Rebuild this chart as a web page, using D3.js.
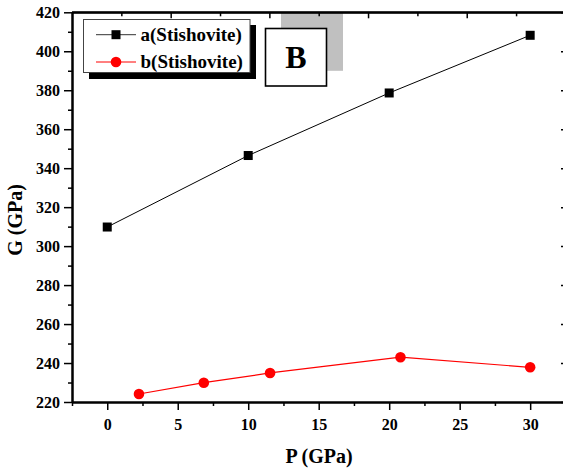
<!DOCTYPE html>
<html>
<head>
<meta charset="utf-8">
<script src="https://cdn.jsdelivr.net/npm/d3@7"></script>
<style>
  html, body { margin: 0; padding: 0; background: #fff; }
  svg { display: block; }
  text { font-family: "Liberation Serif", "Times New Roman", "DejaVu Serif", serif; font-weight: bold; fill: #000; }
</style>
</head>
<body>
<svg id="chart" width="563" height="470"></svg>
<script>
// Shear modulus G of stishovite vs pressure P
const seriesNames = ["a(Stishovite)", "b(Stishovite)"];
const aP = [0, 10, 20, 30];
const aG = [309.8, 346.5, 378.6, 408.2];
const bP = [2.25, 6.85, 11.55, 20.8, 30];
const bG = [224.1, 229.9, 234.9, 243.0, 237.8];
const xTicks = [0, 5, 10, 15, 20, 25, 30];
const xMinor = [-2.5, 2.5, 7.5, 12.5, 17.5, 22.5, 27.5];
const yTicks = [220, 240, 260, 280, 300, 320, 340, 360, 380, 400, 420];
const yMinor = [230, 250, 270, 290, 310, 330, 350, 370, 390, 410];
const topMajor = [4.5, 11.5, 18.5, 25.5];
const topMinor = [1, 8, 15, 22, 29];
const panelLabel = "B";

const serif = "'Liberation Serif', 'Times New Roman', serif";
const svg = d3.select("#chart");
const L = 72, R = 564, T = 12.3, B = 402;

const x = d3.scaleLinear().domain([-2.5, 32.4]).range([L, R]);
const y = d3.scaleLinear().domain([220, 420]).range([B, T]);

// inset panel label with grey offset box behind it
const g = svg.append("g");
g.append("rect").attr("x", 281).attr("y", T).attr("width", 62).attr("height", 58.5)
  .attr("fill", "#c0c0c0");
g.append("rect").attr("x", 265.5).attr("y", 28.5).attr("width", 61).attr("height", 57.5)
  .attr("fill", "#fff").attr("stroke", "#000").attr("stroke-width", 1.6);
g.append("text").attr("x", 296).attr("y", 68).attr("text-anchor", "middle")
  .style("font-size", "32px").style("font-family", serif).text(panelLabel);

// axes
function styleAxis(sel) {
  sel.select(".domain").attr("stroke", "#000").attr("stroke-width", 2);
  sel.selectAll(".tick line").attr("stroke", "#000").attr("stroke-width", 1.5);
}

const xAxis = svg.append("g").attr("transform", `translate(0,${B})`)
  .call(d3.axisBottom(x).tickValues(xTicks).tickSize(8).tickSizeOuter(0).tickPadding(9).tickFormat(d3.format("d")));
styleAxis(xAxis);
xAxis.selectAll("text").style("font-size", "16px").style("font-family", serif).style("font-weight", "bold");
const xAxisMinor = svg.append("g").attr("transform", `translate(0,${B})`)
  .call(d3.axisBottom(x).tickValues(xMinor).tickSize(4).tickSizeOuter(0).tickFormat(""));
styleAxis(xAxisMinor);

const yAxis = svg.append("g").attr("transform", `translate(${L},0)`)
  .call(d3.axisLeft(y).tickValues(yTicks).tickSize(8).tickSizeOuter(0).tickPadding(4).tickFormat(d3.format("d")));
styleAxis(yAxis);
yAxis.selectAll("text").style("font-size", "16px").style("font-family", serif).style("font-weight", "bold");
const yAxisMinor = svg.append("g").attr("transform", `translate(${L},0)`)
  .call(d3.axisLeft(y).tickValues(yMinor).tickSize(4).tickSizeOuter(0).tickFormat(""));
styleAxis(yAxisMinor);

// top frame with its own inward ticks
const topAxis = svg.append("g").attr("transform", `translate(0,${T})`)
  .call(d3.axisBottom(x).tickValues(topMajor).tickSize(6).tickSizeOuter(0).tickFormat(""));
styleAxis(topAxis);
topAxis.select(".domain").attr("d", `M${L},0H${R}`);
const topAxisMinor = svg.append("g").attr("transform", `translate(0,${T})`)
  .call(d3.axisBottom(x).tickValues(topMinor).tickSize(4).tickSizeOuter(0).tickFormat(""));
styleAxis(topAxisMinor);

// right frame with inward ticks
const rightAxis = svg.append("g").attr("transform", `translate(${R},0)`)
  .call(d3.axisLeft(y).tickValues(yTicks).tickSize(3).tickSizeOuter(0).tickFormat(""));
styleAxis(rightAxis);

// axis titles
svg.append("text").attr("x", 319).attr("y", 463).attr("text-anchor", "middle")
  .style("font-size", "20px").style("font-family", serif).text("P (GPa)");
svg.append("text").attr("transform", "translate(22,220) rotate(-90)").attr("text-anchor", "middle")
  .style("font-size", "20px").style("font-family", serif).text("G (GPa)");

// series lines
const line = d3.line().x(d => x(d[0])).y(d => y(d[1]));
const aData = aP.map((p, i) => [p, aG[i]]);
const bData = bP.map((p, i) => [p, bG[i]]);

svg.append("path").datum(aData).attr("d", line).attr("fill", "none")
  .attr("stroke", "#000").attr("stroke-width", 1);
svg.append("path").datum(bData).attr("d", line).attr("fill", "none")
  .attr("stroke", "#ff0000").attr("stroke-width", 1.2);

svg.append("g").selectAll("rect").data(aData).join("rect")
  .attr("x", d => x(d[0]) - 4.5).attr("y", d => y(d[1]) - 4.5)
  .attr("width", 9).attr("height", 9).attr("fill", "#000");
svg.append("g").selectAll("circle").data(bData).join("circle")
  .attr("cx", d => x(d[0])).attr("cy", d => y(d[1])).attr("r", 5.3).attr("fill", "#ff0000");

// legend with drop shadow
const lg = svg.append("g");
lg.append("rect").attr("x", 89).attr("y", 25).attr("width", 167).attr("height", 54).attr("fill", "#000");
lg.append("rect").attr("x", 83.5).attr("y", 19.5).attr("width", 166.5).attr("height", 53)
  .attr("fill", "#fff").attr("stroke", "#444").attr("stroke-width", 1);
const items = [
  { name: seriesNames[0], color: "#000", shape: "square", cy: 34.7 },
  { name: seriesNames[1], color: "#ff0000", shape: "circle", cy: 62 }
];
items.forEach(it => {
  lg.append("line").attr("x1", 96).attr("x2", 136).attr("y1", it.cy).attr("y2", it.cy)
    .attr("stroke", it.color === "#000" ? "#333" : it.color).attr("stroke-width", 1);
  if (it.shape === "square") {
    lg.append("rect").attr("x", 116 - 4.5).attr("y", it.cy - 4.5).attr("width", 9).attr("height", 9).attr("fill", it.color);
  } else {
    lg.append("circle").attr("cx", 116).attr("cy", it.cy).attr("r", 5.3).attr("fill", it.color);
  }
  lg.append("text").attr("x", 140.5).attr("y", it.cy + 6).style("font-size", "19px")
    .style("font-family", serif).text(it.name);
});
</script>
</body>
</html>
